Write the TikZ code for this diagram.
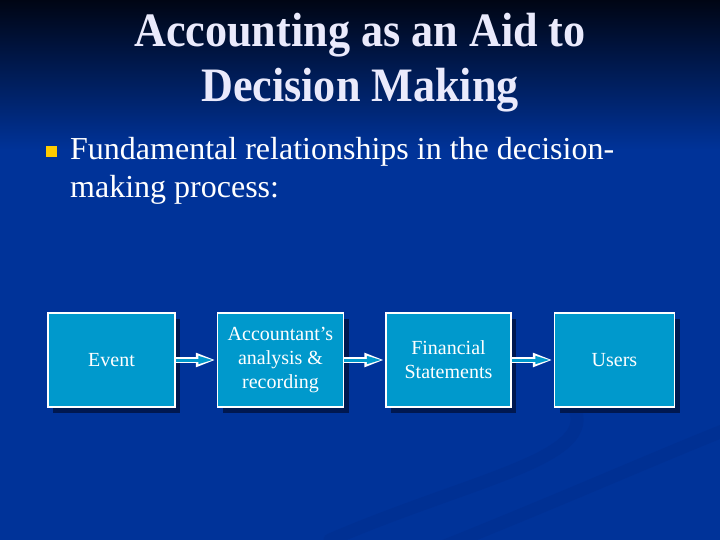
\documentclass[tikz,border=0pt]{standalone}
\usepackage{fontspec}
\setmainfont{Liberation Serif}
\newfontfamily\titlefont[FakeStretch=0.92]{Liberation Serif}
\usetikzlibrary{positioning,arrows.meta,shadows}

\definecolor{slideblue}{RGB}{0,51,153}
\definecolor{slidetop}{RGB}{0,5,20}
\definecolor{swooshblue}{RGB}{0,40,130}
\definecolor{boxcyan}{RGB}{0,153,204}
\definecolor{boxshadow}{RGB}{0,24,80}
\definecolor{titlewhite}{RGB}{234,234,252}
\definecolor{bulletyellow}{RGB}{255,204,0}

\tikzset{
  stepbox/.style={draw=white, line width=1.5pt, fill=boxcyan, text=white, minimum height=94pt,
    align=center, inner sep=2pt, font=\fontsize{20}{24}\selectfont,
    drop shadow={shadow xshift=5pt, shadow yshift=-6pt, fill=boxshadow, opacity=1}},
  flow/.style={draw=white, line width=6pt, shorten >=1pt, -{Triangle[length=20pt,width=13pt]},
    postaction={draw=boxcyan, line width=3pt, shorten >=3.5pt, -{Triangle[length=15pt,width=7.5pt]}}},
  swoosh/.style={draw=swooshblue, line width=13pt, line cap=round, opacity=0.25}
}

\begin{document}
\begin{tikzpicture}[x=1pt, y=-1pt, node distance=41pt]
        \useasboundingbox (0,0) rectangle (720,540);
        % background
        \fill[slideblue] (0,0) rectangle (720,540);
        \shade[top color=slidetop, bottom color=slideblue] (0,0) rectangle (720,150);
        \draw[swoosh] (330,540) .. controls (470,480) and (590,460) .. (576,412);
        \draw[swoosh] (430,552) .. controls (560,500) and (650,460) .. (725,430);
        % title and text
        \node[anchor=base, text=titlewhite, align=center, inner sep=0pt, font=\titlefont\fontsize{48}{55}\selectfont\bfseries] (title) at (360,102) {Accounting as an Aid to\\Decision Making};
        \node[fill=bulletyellow, minimum size=11pt, inner sep=0pt] (bullet) at (51,152) {};
        \node[anchor=base west, text=white, align=left, inner sep=0pt, font=\fontsize{32}{38}\selectfont] (lead) at (70,198) {Fundamental relationships in the decision-\\making process:};
        % process boxes
        \node[stepbox, minimum width=127pt] (event) at (111.5,360) {Event};
        \node[stepbox, minimum width=126pt, right=of event] (analysis) {Accountant’s\\analysis \&\\recording};
        \node[stepbox, minimum width=125pt, right=of analysis] (stmts) {Financial\\Statements};
        \node[stepbox, minimum width=120pt, right=42pt of stmts] (users) {Users};
        \foreach \a/\b in {event/analysis, analysis/stmts, stmts/users}{\draw[flow] (\a) -- (\b);}
\end{tikzpicture}
\end{document}
